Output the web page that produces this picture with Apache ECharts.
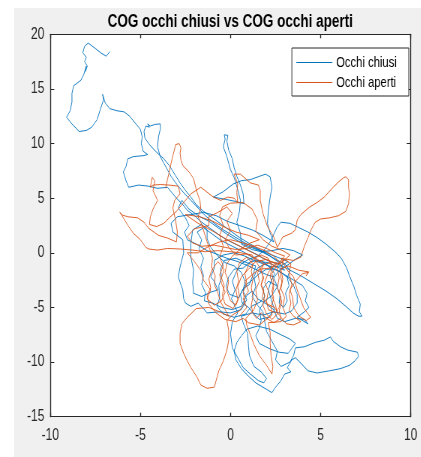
<!DOCTYPE html>
<html>
<head>
<meta charset="utf-8">
<script src="https://cdn.jsdelivr.net/npm/echarts@6/dist/echarts.min.js"></script>
<style>
  html, body { margin: 0; padding: 0; width: 421px; height: 457px; overflow: hidden; background: #ffffff; }
  #panel { position: absolute; left: 14px; top: 8px; right: 0; bottom: 0; background: #f0f0f0; }
  #chart { position: absolute; left: 0; top: 0; width: 561px; height: 457px;
           transform: scaleX(0.75); transform-origin: 0 0; }
</style>
</head>
<body>
<div id="panel"></div>
<div id="chart"></div>
<script>
// Axis ticks
const xTickValues = [-10, -5, 0, 5, 10];
const yTickValues = [-15, -10, -5, 0, 5, 10, 15, 20];

// Centre-of-gravity path, eyes closed  [x, y]
const occhiChiusi = [
  [-6.7,18.4],[-6.9,18.0],[-7.2,18.3],[-7.5,18.7],[-7.9,19.2],[-8.1,18.9],[-8.2,18.3],[-8.0,17.9],[-8.1,17.5],[-7.95,17.1],[-8.05,16.6],[-8.0,17.1],[-8.15,16.3],[-8.3,15.8],[-8.7,15.3],[-8.8,14.6],[-8.8,13.8],[-8.9,13.0],[-9.1,12.4],[-8.8,11.8],[-8.4,11.1],[-8.0,11.2],[-7.7,11.5],[-7.4,12.2],[-7.25,13.0],[-7.05,14.0],[-7.1,14.5],[-6.95,13.7],[-6.7,13.2],[-6.3,13.0],[-5.9,12.9],[-5.6,12.5],[-5.3,11.9],[-5.0,11.3],[-4.9,10.6],[-4.95,10.0],[-4.85,9.3],[-4.6,9.0],[-4.8,8.9],
  [-5.4,8.8],[-5.7,8.6],[-5.8,7.9],[-5.95,7.4],[-5.8,6.6],[-5.65,6.0],[-5.1,6.2],[-4.55,6.1],[-4.05,5.9],[-3.5,6.0],[-3.3,5.6],
  [-3.0,5.0],[-2.7,4.5],[-2.4,3.9],[-2.0,3.4],[-1.6,2.8],[-1.1,2.2],[-0.6,1.6],[-0.1,1.1],[0.4,0.7],[0.9,0.3],[1.4,-0.1],[1.8,-0.5],[2.2,-0.8],[2.6,-1.0],
  [3.2,-1.5],[3.9,-2.1],[4.6,-2.8],[5.3,-3.5],[5.9,-4.2],[6.4,-4.9],[6.8,-5.5],[7.1,-5.8],[7.3,-5.8],[7.15,-5.4],[7.2,-4.7],[7.0,-3.9],[6.85,-3.1],[6.6,-2.1],[6.45,-1.4],[6.15,-0.5],[5.8,0.1],[5.3,0.8],[4.8,1.4],[4.3,1.9],[3.8,2.3],[3.3,2.7],[2.8,2.8],[2.6,2.4],
  [2.4,1.7],[2.2,1.0],[1.9,0.3],[1.5,-0.3],[1.0,-0.6],[0.6,-1.0],[0.3,-1.8],[0.1,-2.6],[0.25,-3.4],[0.05,-4.2],[0.25,-4.9],[0.4,-5.5],
  [0.1,-6.3],[0.0,-7.4],[0.1,-8.7],[0.4,-9.6],[0.7,-10.5],[1.1,-11.1],[1.55,-11.7],[1.85,-11.9],[2.0,-11.5],[1.7,-10.9],[1.3,-10.4],[1.05,-9.4],[1.0,-8.6],[0.95,-7.4],[0.7,-6.4],[0.6,-5.8],
  [1.2,-5.5],[1.8,-5.7],[2.4,-5.4],[3.0,-5.6],[3.4,-5.3],[3.7,-4.6],[3.7,-3.8],[3.5,-3.0],[3.2,-2.3],[2.8,-1.8],[2.3,-1.4],[1.9,-1.0],[1.5,-1.4],[1.3,-2.2],[1.4,-3.1],[1.2,-4.0],[1.5,-4.8],[1.8,-5.4],
  [1.9,-6.3],[2.0,-7.2],[2.3,-8.1],[2.6,-9.0],[2.5,-9.8],[2.8,-10.4],[3.3,-10.0],[3.5,-9.4],[3.6,-8.7],
  [4.1,-8.6],[4.7,-8.2],[5.2,-8.0],[5.55,-7.7],[5.7,-8.1],[6.1,-8.6],[6.5,-8.9],[7.05,-9.1],[7.1,-9.5],[6.9,-9.9],[6.6,-10.3],[6.1,-10.6],[5.5,-10.8],[4.8,-11.0],[4.3,-10.8],[3.9,-10.1],[3.6,-9.6],
  [3.4,-9.8],[3.15,-10.5],[3.35,-10.9],[3.0,-11.1],[2.8,-11.7],[2.45,-12.4],[2.3,-12.8],[2.0,-12.5],[1.7,-12.2],[1.4,-11.9],[1.0,-11.3],[0.6,-10.6],[0.3,-9.8],[0.2,-9.0],[0.35,-8.2],[0.6,-7.6],[0.9,-7.0],
  [1.5,-6.7],[2.2,-7.0],[2.8,-7.5],[3.3,-7.9],[3.6,-8.3],[3.2,-9.2],[2.7,-9.1],[2.2,-8.8],[1.6,-8.3],[1.4,-7.6],[1.6,-6.9],[1.7,-6.2],
  [1.6,-5.2],[1.9,-4.4],[2.3,-3.9],[2.6,-3.1],[2.4,-2.3],[2.7,-1.6],[3.1,-1.2],[3.6,-0.6],[4.0,-0.2],[3.5,0.2],[2.9,0.4],[2.3,0.2],[1.7,0.1],[1.2,0.3],
  [0.6,0.8],[0.55,1.8],[0.35,2.8],[0.5,3.8],[0.55,4.8],[0.4,5.8],[0.2,6.9],[0.0,7.6],[-0.2,8.8],[-0.4,9.7],[-0.3,10.4],[-0.35,10.8],[-0.15,10.75],[-0.2,10.2],[-0.1,9.4],[0.1,8.6],[0.2,7.8],[0.35,7.0],[0.55,6.2],[0.7,5.4],[0.75,4.5],[0.3,4.7],[-0.3,4.9],[-0.95,5.1],[-0.4,5.6],[0.15,6.3],[0.6,6.6],[1.1,6.7],[1.6,7.0],[1.95,7.2],[2.2,6.95],[2.3,6.0],[2.2,5.1],[2.1,3.9],[2.05,2.7],[2.2,1.8],[2.4,1.0],
  [1.8,1.6],[1.2,2.1],[0.5,2.5],[-0.2,2.9],[-0.8,3.4],[-1.5,3.7],[-2.2,3.5],[-2.95,3.3],[-3.3,2.7],[-3.2,1.9],[-2.65,1.2],[-2.6,0.0],[-2.8,-1.3],[-2.9,-2.2],[-2.65,-3.4],[-2.6,-4.2],[-2.5,-4.6],[-2.2,-4.9],[-1.8,-4.6],[-1.5,-5.1],[-1.3,-5.5],[-0.6,-5.4],[0.0,-5.5],[0.6,-5.2],[0.9,-4.3],[0.7,-3.5],[0.8,-2.6],[0.6,-1.8],[0.2,-1.2],[-0.3,-0.9],[-0.7,-0.3],[-1.1,0.5],[-1.3,1.3],[-1.3,2.1],[-1.6,2.6],[-2.1,2.1],[-2.2,0.9],[-2.2,-0.4],[-2.05,-1.6],[-2.1,-2.7],[-2.05,-3.7],[-1.6,-4.0],[-1.1,-3.6],[-0.7,-3.4],[-0.9,-2.6],[-1.1,-2.2],[-0.9,-1.4],[-0.9,-0.7],[-0.4,-0.2],[0.2,0.0],[0.8,-0.3],[1.3,-0.7],[1.8,-1.0],[2.3,-1.3],[2.8,-1.2],[3.2,-0.8],
  [2.6,-0.4],[2.0,0.0],[1.4,0.4],[0.8,0.9],[0.2,1.5],[-0.4,2.1],[-0.9,2.7],[-1.4,3.4],[-1.8,4.1],[-2.2,4.8],[-2.6,5.5],[-3.0,6.3],[-3.3,7.0],[-3.5,7.6],[-3.7,8.2],[-3.9,8.8],[-4.05,9.7],[-4.0,10.6],[-3.9,11.3],[-3.9,11.8],[-4.2,11.75],[-4.45,11.6],[-4.6,11.8],[-4.5,11.5],[-4.7,11.6],[-4.8,11.1],[-4.75,10.5],[-4.5,9.9],[-4.1,9.2],[-3.7,8.6],[-3.4,8.0],[-3.1,7.2],[-2.8,6.4],[-2.5,5.7],[-2.2,5.1],[-1.9,4.4],[-1.5,3.8],[-1.0,3.2],[-0.5,2.6],[0.0,2.0],[0.5,1.4],[1.0,0.9],[1.5,0.4],[2.0,-0.1],[2.5,-0.6],[3.0,-1.0],
  [3.3,-1.6],[3.15,-2.3],[3.25,-3.0],[3.05,-3.7],[3.15,-4.4],[2.95,-5.0],[2.7,-4.6],[2.75,-3.8],[2.55,-3.0],[2.1,-2.6],[1.8,-3.3],[1.9,-4.0],[1.65,-4.5],[1.15,-4.9],[0.85,-5.6],[0.2,-5.9],[-0.4,-5.6],[-0.75,-4.9],[-0.6,-4.1],[-0.65,-3.0],[-0.5,-2.3],[-0.55,-1.5],[-0.35,-0.7],[0.3,-0.5],[0.9,-0.9],[1.4,-1.2],[1.25,-2.0],[1.05,-2.9],[0.7,-3.3],[0.45,-4.1],[-0.05,-3.8],[-0.25,-3.1],[-0.1,-2.2],[0.2,-1.5],[0.7,-1.4],[1.1,-0.8],[1.7,-0.7],[2.1,-1.2],[2.45,-1.9],[2.25,-2.6],[2.1,-3.4],[2.3,-4.5],[2.45,-5.2],[2.1,-5.9],[1.6,-6.1],[1.3,-5.6],[1.0,-5.0],[0.65,-4.6],[0.55,-3.8],[0.8,-3.0],[1.2,-2.5],[1.6,-1.9],[2.0,-1.5],[2.5,-1.5],[3.0,-2.0],[3.5,-2.5],[4.0,-3.0],[4.25,-3.7],[4.15,-4.4],[4.35,-5.0],[4.1,-5.4],[3.7,-5.9],[4.3,-6.5],[4.1,-6.1],
  [3.6,-6.0],[3.0,-6.3],[2.6,-6.0],[2.4,-5.2],[2.0,-4.7],[1.5,-4.2],[1.2,-3.5],[0.9,-3.9],[0.6,-4.9],[0.1,-5.2],[-0.5,-5.0],[-1.0,-4.6],[-1.45,-4.4],[-1.4,-3.6],[-1.6,-2.9],[-1.5,-2.1],[-1.65,-1.3],[-1.5,-0.5],[-1.75,0.4],[-1.6,1.2],[-1.85,1.9],[-1.5,2.3],[-1.0,1.7],[-0.5,1.1],[0.1,0.6],[0.7,0.1],[1.2,-0.4],[1.6,-0.8],[2.1,-0.9],[2.6,-1.3],[3.0,-1.6],[2.7,-0.9],[2.2,-0.3],[1.6,0.2],[1.0,0.6],[0.4,1.1],[-0.2,1.7],[-0.7,2.3],[-1.2,2.9],[-1.7,3.3],[-2.3,4.0],[-2.7,4.8],[-2.9,4.1],[-2.5,3.2],[-2.3,2.5],[-2.55,1.9],[-2.4,1.2],[-1.9,0.8],[-1.3,0.2],[-0.8,-0.1],[-0.2,-0.5],[0.4,-0.8],[1.0,-1.2],[1.5,-1.6],[2.0,-2.0],[2.4,-2.2]
];

// Centre-of-gravity path, eyes open  [x, y]
const occhiAperti = [
  [-3.6,5.9],[-3.5,6.7],[-3.4,7.4],[-3.3,8.2],[-3.2,8.9],[-3.1,9.5],[-3.05,9.9],[-2.85,10.0],[-2.75,9.6],[-2.8,9.1],[-2.75,8.5],[-2.65,8.0],[-2.3,7.4],[-2.05,6.8],[-1.95,6.1],[-1.85,5.5],[-1.7,4.8],[-1.65,4.1],[-1.8,3.3],
  [-1.6,2.6],[-1.45,1.8],[-1.3,1.0],[-1.15,0.3],[-1.0,-0.5],[-1.05,-1.3],[-0.85,-2.1],[-0.9,-2.9],[-0.7,-3.7],[-0.55,-4.5],[-0.3,-5.2],[-0.1,-5.8],
  [-0.6,-5.4],[-1.2,-5.0],[-1.9,-5.1],[-2.4,-5.9],[-2.7,-6.5],[-2.8,-7.4],[-2.8,-8.3],[-2.6,-9.2],[-2.4,-9.9],[-2.2,-10.5],[-1.85,-11.4],[-1.65,-12.1],[-1.3,-12.4],[-0.9,-12.3],[-0.8,-11.7],[-0.65,-10.8],[-0.4,-9.9],[-0.2,-8.9],[-0.1,-8.0],[-0.1,-7.1],[-0.2,-6.2],[0.1,-5.7],
  [0.5,-5.3],[0.8,-4.5],[0.7,-3.6],[0.9,-2.8],[0.8,-1.9],[1.0,-1.1],[1.3,-0.5],[1.7,-0.2],[2.1,-0.5],[2.3,-1.3],[2.2,-2.2],[2.4,-3.1],[2.3,-4.0],[2.5,-4.8],[2.6,-5.6],[2.3,-6.1],[2.0,-5.6],[1.8,-4.8],[1.9,-3.9],[1.7,-3.0],[1.8,-2.1],[1.6,-1.3],
  [1.2,-0.2],[0.6,0.0],[0.0,0.1],[-0.7,0.2],[-1.4,0.1],[-2.1,0.25],[-2.8,0.35],[-3.5,0.4],[-4.05,0.25],[-4.55,0.35],[-4.7,0.5],[-5.0,1.2],[-5.4,1.8],[-5.65,2.4],[-5.95,3.2],[-6.05,3.5],[-6.15,3.7],[-6.0,3.45],[-5.7,3.3],[-5.15,3.2],[-4.8,2.8],[-4.55,2.25],[-4.25,1.9],[-4.0,1.6],[-3.5,1.35],[-3.0,1.0],
  [-2.95,1.9],[-3.05,3.0],[-3.2,4.1],[-3.1,4.8],[-2.8,5.4],[-2.9,6.1],[-3.4,6.2],[-3.9,6.25],[-4.3,6.2],[-4.45,6.0],[-4.35,6.9],[-4.2,6.6],[-4.3,5.7],[-4.05,4.8],[-4.3,4.0],[-4.45,3.3],[-4.5,2.6],[-4.1,2.4],[-3.7,2.7],[-3.4,3.2],
  [-3.0,3.8],[-2.6,4.6],[-2.2,5.4],[-1.65,6.0],[-0.95,5.1],[-0.55,4.8],[-0.15,5.1],[0.2,5.0],[0.4,4.6],[0.35,5.5],[0.4,6.3],[0.2,7.2],[0.55,7.2],[1.1,6.4],[1.55,6.2],[1.65,5.7],[1.65,4.8],[1.8,3.6],[2.05,2.4],[2.4,1.45],[2.6,0.5],
  [2.9,1.45],[3.4,1.8],[3.6,2.1],[3.7,3.0],[3.9,3.5],[4.4,4.2],[4.8,4.6],[5.2,5.1],[5.7,6.0],[6.0,6.5],[6.3,6.9],[6.4,6.95],[6.55,6.7],[6.55,6.0],[6.6,5.4],[6.55,4.5],[6.4,3.8],[6.0,3.4],[5.5,3.2],[5.0,3.1],[4.7,2.8],[4.5,2.2],[4.3,1.4],[4.1,0.6],[3.9,-0.4],[3.5,-0.7],[2.8,-0.5],
  [3.15,-1.6],[3.5,-2.2],[3.7,-3.4],[3.9,-4.3],[4.05,-5.0],[4.3,-5.6],[4.45,-5.9],[4.2,-6.2],[3.8,-5.8],[3.5,-5.0],[3.45,-4.1],[3.3,-3.4],[3.6,-2.6],[4.0,-1.9],[4.3,-1.8],[4.2,-2.1],[4.35,-1.75],[3.8,-1.6],[3.2,-1.2],[2.8,-1.5],[2.9,-2.4],[2.8,-3.3],[3.0,-4.1],[2.9,-5.0],[3.1,-5.8],[2.8,-6.3],
  [2.1,-6.4],[2.2,-7.3],[2.2,-8.3],[2.25,-9.4],[2.35,-10.4],[2.3,-11.1],[2.0,-10.3],[1.6,-9.4],[1.3,-8.4],[1.1,-7.5],[0.9,-6.6],[0.85,-6.0],
  [1.3,-5.2],[1.5,-4.3],[1.4,-3.4],[1.6,-2.6],[1.5,-1.8],[1.8,-1.1],[2.2,-0.9],[2.6,-1.4],[2.7,-2.3],[2.6,-3.2],[2.8,-4.1],[2.7,-5.0],[2.5,-5.5],[2.1,-5.2],[2.0,-4.4],[2.1,-3.5],[1.9,-2.7],[2.1,-1.8],[2.5,-1.0],[2.0,-0.6],[1.4,-0.8],[1.0,-1.5],[0.6,-2.2],[0.4,-3.1],[0.5,-4.0],[0.3,-4.8],[0.0,-4.4],[-0.2,-3.5],[-0.1,-2.6],[-0.3,-1.8],[-0.2,-1.0],[0.1,-0.3],[0.6,0.4],[1.1,0.9],[1.6,1.2],
  [1.0,1.6],[0.3,1.9],[-0.4,2.4],[-1.0,2.9],[-1.7,3.3],[-2.5,3.5],[-1.8,2.7],[-1.0,2.0],[-0.3,1.3],[0.4,0.7],[1.0,0.2],[1.6,-0.3],[2.2,-0.8],[2.8,-1.0],
  [2.4,-0.3],[1.9,0.2],[1.3,0.6],[0.7,0.9],[0.0,1.2],[-0.6,1.0],[-1.2,0.6],[-1.8,0.0],[-2.4,0.0],[-2.05,-0.7],[-1.65,-1.6],[-1.5,-2.5],[-1.1,-3.4],[-1.3,-4.2],[-0.9,-4.8],[-0.5,-4.4],[-0.3,-3.6],[-0.5,-2.8],[-0.6,-2.0],[-0.4,-1.2],[-0.6,-0.4],[-0.4,0.6],[-0.6,1.6],[-0.4,2.5],[-0.6,3.4],[-0.45,4.2],[0.0,4.55],[0.7,4.6],
  [1.2,4.0],[1.5,3.0],[1.4,2.0],[1.8,1.2],[2.3,0.6],[2.9,0.2],[3.3,-0.2],
  [2.9,-0.8],[2.75,-1.8],[2.85,-2.7],[2.7,-3.6],[2.85,-4.5],[2.7,-5.3],[2.8,-6.0],[2.4,-6.4],[2.0,-6.0],[1.7,-5.5],[1.45,-6.0],[1.25,-5.6],[1.15,-4.8],[1.25,-4.0],[1.15,-3.2],[1.25,-2.4],[1.15,-1.7],[1.25,-1.0],[0.9,-0.4],[0.5,-0.9],[0.35,-1.7],[0.45,-2.6],[0.3,-3.4],[0.4,-4.3],[0.15,-5.1],[-0.3,-4.7],[-0.45,-3.9],[-0.35,-3.0],[-0.5,-2.3],[-0.35,-1.5],[-0.7,-0.8],[-1.05,-1.6],[-1.2,-2.4],[-1.1,-3.2],[-1.3,-3.9],[-1.2,-4.7],[-0.8,-5.5],[-0.3,-6.1],[0.3,-6.3],[0.7,-6.0],[1.0,-6.4],[1.6,-6.6],[1.9,-6.2],[2.3,-5.7],[2.25,-4.9],[2.4,-4.2],[2.3,-3.5],[2.4,-2.7],[2.3,-1.9],[2.55,-1.2],[3.0,-0.6],[3.35,-1.0],[3.25,-1.9],[3.4,-2.9],[3.25,-3.8],[3.35,-4.6],[3.25,-5.3],[3.5,-5.8],[3.9,-6.3],[3.5,-6.6],[3.1,-6.5],
  [2.7,-5.7],[2.45,-5.0],[2.05,-4.7],[1.75,-4.1],[1.85,-3.4],[1.7,-2.9],[1.85,-2.3],[1.7,-1.7],[1.85,-1.0],[1.5,-0.6],[0.9,-0.1],[0.3,-0.2],[-0.1,0.5],[-0.3,1.2],[0.0,2.0],[-0.2,2.9],[0.1,3.6],[-0.2,4.2],[-0.7,3.7],[-1.2,3.3],[-1.2,2.5],[-2.0,2.2],[-2.4,1.5],[-2.1,0.9],[-1.6,0.6],[-0.9,0.7],[-0.3,0.5],[0.3,0.3],[0.9,0.4],[1.5,0.7],[2.0,0.4],[2.5,0.0],[3.0,-0.3],[2.7,-0.9],[2.2,-1.4],[1.6,-1.5],[1.2,-2.0],[0.8,-2.6],[1.0,-3.5],[0.7,-4.2],[0.9,-5.0],[0.5,-5.8]
];

const FONT = '"Liberation Sans", Arial, Helvetica, sans-serif';
const AXIS_COLOR = '#262626';

function axisBase(ticks, shown, pos, vertical) {
  return {
    type: 'value',
    position: pos,
    min: ticks[0],
    max: ticks[ticks.length - 1],
    interval: ticks[1] - ticks[0],
    axisLine: { show: true, onZero: false, lineStyle: { color: AXIS_COLOR, width: vertical ? 1.33 : 1 } },
    axisTick: { show: true, inside: true, length: vertical ? 5.3 : 4,
                lineStyle: { color: AXIS_COLOR, width: vertical ? 1 : 1.33 } },
    axisLabel: { show: shown, color: AXIS_COLOR, fontSize: 16, fontFamily: FONT,
                 margin: vertical ? 8 : 11 },
    splitLine: { show: false }
  };
}

const chart = echarts.init(document.getElementById('chart'), null, { renderer: 'canvas', width: 561, height: 457 });

// plain line sample used as the legend key
const LINE_KEY = 'path://M0,0 L48,0 L48,1 L0,1 Z';

chart.setOption({
  animation: false,
  backgroundColor: 'transparent',
  title: {
    text: 'COG occhi chiusi vs COG occhi aperti',
    left: 307,
    textAlign: 'center',
    top: 13,
    padding: 0,
    textStyle: { fontFamily: FONT, fontSize: 18, fontWeight: 'bold', color: '#000000' }
  },
  legend: {
    orient: 'vertical',
    right: 16,
    top: 48,
    padding: [7, 16, 6, 6],
    itemGap: 5,
    itemWidth: 48,
    itemHeight: 1.3,
    icon: LINE_KEY,
    backgroundColor: '#ffffff',
    borderColor: AXIS_COLOR,
    borderWidth: 1,
    borderRadius: 0,
    textStyle: { fontFamily: FONT, fontSize: 15, color: '#000000', lineHeight: 14 },
    data: ['Occhi chiusi', 'Occhi aperti']
  },
  grid: {
    left: 67.1, right: 13.4, top: 34.3, bottom: 40.3,
    show: true, backgroundColor: '#ffffff', borderWidth: 0
  },
  xAxis: [axisBase(xTickValues, true, 'bottom', false), axisBase(xTickValues, false, 'top', false)],
  yAxis: [axisBase(yTickValues, true, 'left', true), axisBase(yTickValues, false, 'right', true)],
  series: [
    {
      name: 'Occhi chiusi', type: 'line', data: occhiChiusi,
      symbol: 'none', showSymbol: false, smooth: false, clip: true,
      lineStyle: { color: '#0072BD', width: 0.9 }, itemStyle: { color: '#0072BD' }
    },
    {
      name: 'Occhi aperti', type: 'line', data: occhiAperti,
      symbol: 'none', showSymbol: false, smooth: false, clip: true,
      lineStyle: { color: '#D95319', width: 0.9 }, itemStyle: { color: '#D95319' }
    }
  ]
});
</script>
</body>
</html>
